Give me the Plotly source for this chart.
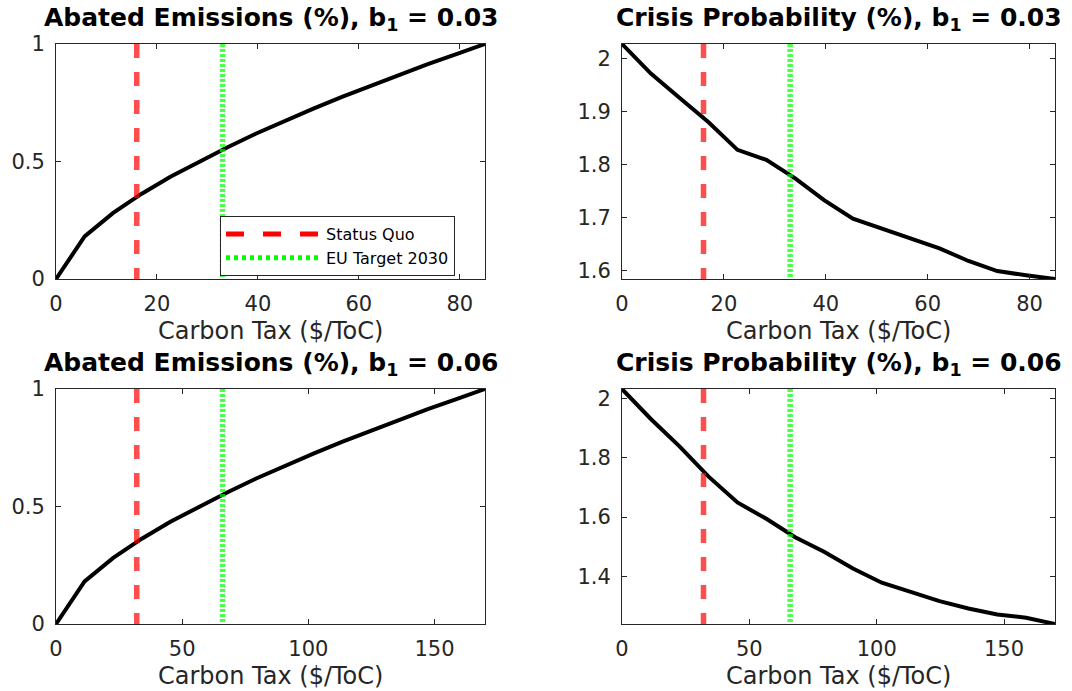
import plotly.graph_objects as go

# Carbon tax grids ($/ToC) for the two b1 calibrations
tax_b003 = [0, 5.67, 11.33, 17.0, 22.67, 28.33, 34.0, 39.67, 45.33, 51.0,
            56.67, 62.33, 68.0, 73.67, 79.33, 85.0]
tax_b006 = [0, 11.33, 22.67, 34.0, 45.33, 56.67, 68.0, 79.33, 90.67, 102.0,
            113.33, 124.67, 136.0, 147.33, 158.67, 170.0]

# Abated emissions (%)
abated_b003 = [0, 0.181, 0.281, 0.363, 0.435, 0.500, 0.561, 0.619, 0.673, 0.725,
               0.775, 0.822, 0.869, 0.914, 0.957, 1.0]
abated_b006 = [0, 0.181, 0.281, 0.363, 0.435, 0.500, 0.561, 0.619, 0.673, 0.725,
               0.775, 0.822, 0.869, 0.914, 0.957, 1.0]

# Crisis probability (%)
crisis_b003 = [2.028, 1.972, 1.926, 1.880, 1.828, 1.809, 1.774, 1.733, 1.698, 1.679,
               1.659, 1.642, 1.618, 1.599, 1.591, 1.584]
crisis_b006 = [2.031, 1.930, 1.837, 1.736, 1.649, 1.594, 1.532, 1.483, 1.427, 1.379,
               1.348, 1.317, 1.292, 1.272, 1.261, 1.240]

# Reference tax levels
status_quo = {"b003": 16, "b006": 32}
eu_target = {"b003": 33, "b006": 66}

titles = [
    "Abated Emissions (%), b<sub>1</sub> = 0.03",
    "Crisis Probability (%), b<sub>1</sub> = 0.03",
    "Abated Emissions (%), b<sub>1</sub> = 0.06",
    "Crisis Probability (%), b<sub>1</sub> = 0.06",
]
xtick_top = [0, 20, 40, 60, 80]
xtick_bottom = [0, 50, 100, 150]
ytick_abated = [0, 0.5, 1]
ytick_abated_text = ["0", "0.5", "1"]
ytick_crisis_top = [1.6, 1.7, 1.8, 1.9, 2.0]
ytick_crisis_top_text = ["1.6", "1.7", "1.8", "1.9", "2"]
ytick_crisis_bottom = [1.4, 1.6, 1.8, 2.0]
ytick_crisis_bottom_text = ["1.4", "1.6", "1.8", "2"]

W, H = 1072, 691
FONT = "DejaVu Sans"
AX = "#262626"
RED = "rgba(255,0,0,0.7)"
GREEN = "rgba(0,255,0,0.7)"

# Panel boxes in pixels: (left, right, top, bottom)
boxes = [(56, 485, 44, 279), (622, 1055, 44, 279),
         (56, 485, 389, 624), (622, 1055, 389, 624)]

panels = [
    (tax_b003, abated_b003, status_quo["b003"], eu_target["b003"], xtick_top,
     ytick_abated, ytick_abated_text, [0, 1]),
    (tax_b003, crisis_b003, status_quo["b003"], eu_target["b003"], xtick_top,
     ytick_crisis_top, ytick_crisis_top_text, [min(crisis_b003), max(crisis_b003)]),
    (tax_b006, abated_b006, status_quo["b006"], eu_target["b006"], xtick_bottom,
     ytick_abated, ytick_abated_text, [0, 1]),
    (tax_b006, crisis_b006, status_quo["b006"], eu_target["b006"], xtick_bottom,
     ytick_crisis_bottom, ytick_crisis_bottom_text, [min(crisis_b006), max(crisis_b006)]),
]

fig = go.Figure()
layout = dict(
    width=W, height=H, margin=dict(l=0, r=0, t=0, b=0, autoexpand=False),
    paper_bgcolor="white", plot_bgcolor="white",
    font=dict(family=FONT, color=AX),
    showlegend=True,
    annotations=[],
)

for i, (box, panel) in enumerate(zip(boxes, panels), start=1):
    x, y, sq, eu, xt, yt, ytt, yr = panel
    left, right, top, bottom = box
    xa = "x" if i == 1 else f"x{i}"
    ya = "y" if i == 1 else f"y{i}"
    fig.add_trace(go.Scatter(x=x, y=y, mode="lines", xaxis=xa, yaxis=ya,
                             line=dict(color="black", width=4), showlegend=False))
    fig.add_trace(go.Scatter(x=[sq, sq], y=[yr[1], yr[0]], mode="lines", xaxis=xa, yaxis=ya,
                             line=dict(color=RED, width=5.5, dash="14px,14px"),
                             showlegend=False))
    fig.add_trace(go.Scatter(x=[eu, eu], y=[yr[1], yr[0]], mode="lines", xaxis=xa, yaxis=ya,
                             line=dict(color=GREEN, width=5.5, dash="3px,2px"),
                             showlegend=False))
    axis_common = dict(showline=True, linecolor=AX, linewidth=1, mirror="ticks",
                       ticks="inside", ticklen=5, tickcolor=AX, tickwidth=1,
                       showgrid=False, zeroline=False, automargin=False,
                       tickfont=dict(family=FONT, size=21, color=AX))
    layout["xaxis" if i == 1 else f"xaxis{i}"] = dict(
        axis_common, domain=[left / W, right / W], anchor=ya,
        range=[x[0], x[-1]], tickvals=xt, ticklabelstandoff=6)
    layout["yaxis" if i == 1 else f"yaxis{i}"] = dict(
        axis_common, domain=[1 - bottom / H, 1 - top / H], anchor=xa,
        range=yr, tickvals=yt, ticktext=ytt, ticklabelstandoff=6)
    cx = (left + right) / 2 / W
    layout["annotations"].append(dict(
        text="<b>" + titles[i - 1] + "</b>", xref="paper", yref="paper",
        x=cx, y=1 - (top - 25) / H, xanchor="center", yanchor="middle",
        showarrow=False, font=dict(family=FONT, size=25, color="black")))
    layout["annotations"].append(dict(
        text="Carbon Tax ($/ToC)", xref="paper", yref="paper",
        x=cx, y=1 - (bottom + 52) / H, xanchor="center", yanchor="middle",
        showarrow=False, font=dict(family=FONT, size=24, color=AX)))

# Legend entries
fig.add_trace(go.Scatter(x=[None], y=[None], mode="lines", name="Status Quo",
                         line=dict(color="#ff0000", width=5, dash="18px,19px")))
fig.add_trace(go.Scatter(x=[None], y=[None], mode="lines", name="EU Target 2030",
                         line=dict(color="#00ff00", width=5, dash="4px,4px")))

layout["legend"] = dict(x=220 / W, y=1 - 216 / H, xanchor="left", yanchor="top",
                        bgcolor="white", bordercolor=AX, borderwidth=1,
                        font=dict(family=FONT, size=16, color="black"),
                        itemwidth=95, tracegroupgap=0)

fig.update_layout(**layout)
fig.write_html("out.html")
